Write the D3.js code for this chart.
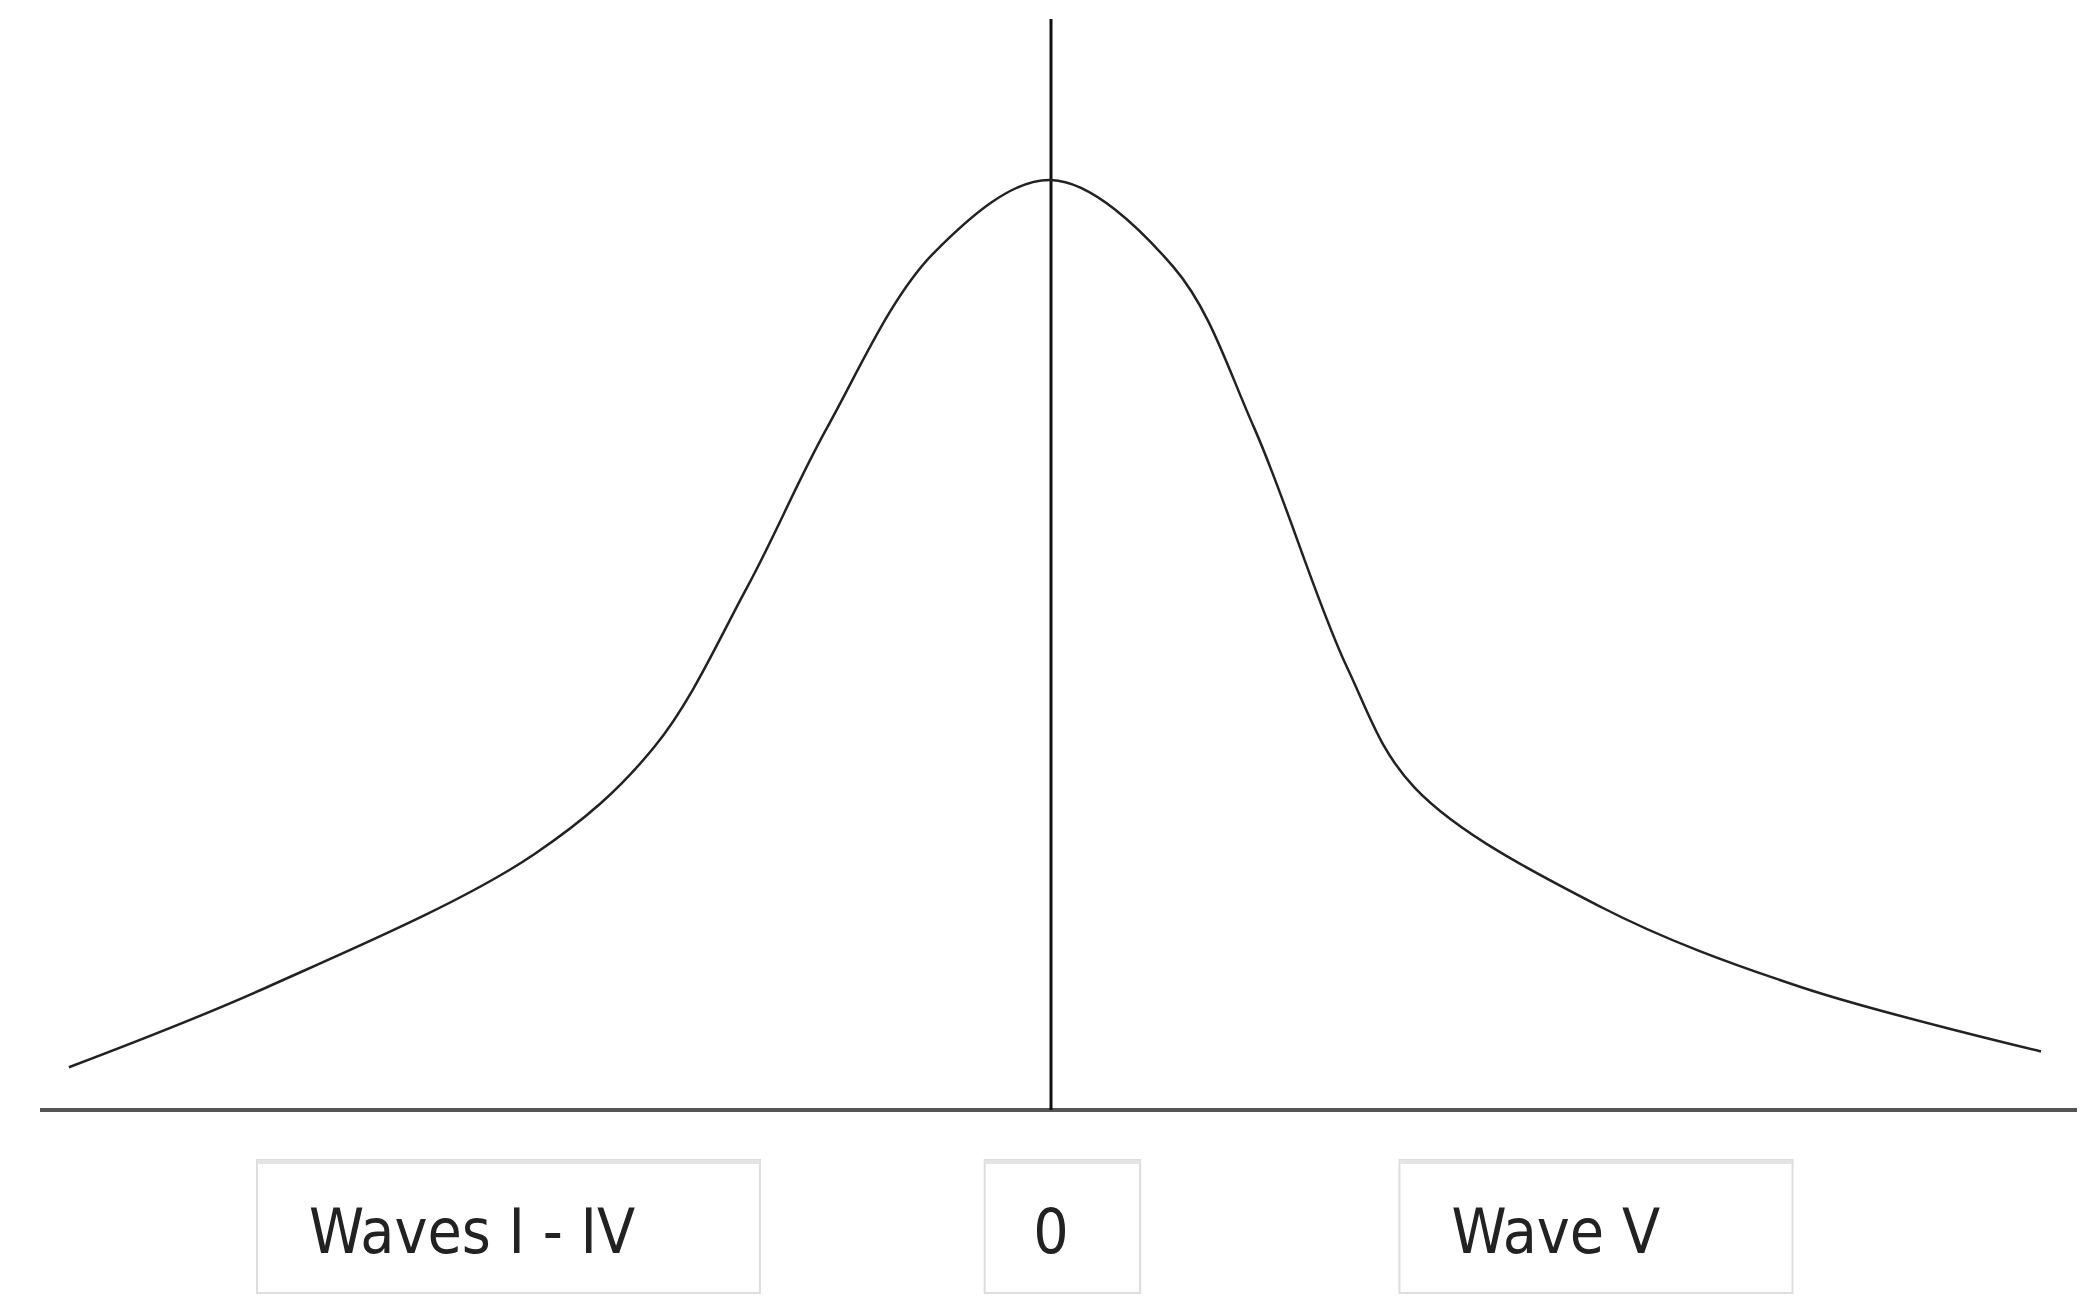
<!DOCTYPE html>
<html>
<head>
<meta charset="utf-8">
<script src="https://d3js.org/d3.v7.min.js"></script>
<style>
  body { margin: 0; background: #fff; }
  text { font-family: "Liberation Sans Narrow", "DejaVu Sans Condensed", sans-serif; }
</style>
</head>
<body>
<script>
// curve (x: relative offset, y: relative height)
var curveX = [-9.92, -7.92, -5.22, -4.01, -3.07, -2.26, -1.18, 0, 1.24, 2.05, 2.99, 3.67, 5.56, 7.58, 10];
var curveY = [4.6, 13.2, 27.5, 39.0, 56.2, 73.4, 92.2, 100, 90.6, 73.4, 47.6, 34.7, 21.8, 13.2, 6.3];
var labels = ["Waves I - IV", "0", "Wave V"];
var labelBoxes = [[-8.02, -2.94], [-0.67, 0.9], [3.52, 7.49]]; // x extents in data units

var W = 2081, H = 1307;
var svg = d3.select("body").append("svg").attr("width", W).attr("height", H);

var x = d3.scaleLinear().domain([-10, 10]).range([61, 2041]);
var y = d3.scaleLinear().domain([0, 100]).range([1110, 180]);

// baseline axis
svg.append("line").attr("x1", 40).attr("x2", 2077).attr("y1", y(0)).attr("y2", y(0))
  .attr("stroke", "#555").attr("stroke-width", 4);
// center line
svg.append("line").attr("x1", x(0)).attr("x2", x(0)).attr("y1", 19).attr("y2", y(0))
  .attr("stroke", "#111").attr("stroke-width", 3);

var pts = curveX.map(function(d, i) { return [d, curveY[i]]; });
var line = d3.line().x(function(d) { return x(d[0]); }).y(function(d) { return y(d[1]); })
  .curve(d3.curveCatmullRom.alpha(0.5));
svg.append("path").attr("d", line(pts)).attr("fill", "none")
  .attr("stroke", "#222").attr("stroke-width", 2.5);

var g = svg.selectAll(".lab").data(labels).enter().append("g");
g.append("rect")
  .attr("x", function(d, i) { return x(labelBoxes[i][0]); })
  .attr("width", function(d, i) { return x(labelBoxes[i][1]) - x(labelBoxes[i][0]); })
  .attr("y", 1160).attr("height", 133)
  .attr("fill", "#fff").attr("stroke", "#ddd").attr("stroke-width", 2);
g.append("line")
  .attr("x1", function(d, i) { return x(labelBoxes[i][0]); })
  .attr("x2", function(d, i) { return x(labelBoxes[i][1]); })
  .attr("y1", 1162).attr("y2", 1162).attr("stroke", "#e4e4e4").attr("stroke-width", 4);
g.append("text")
  .attr("x", function(d, i) { return i === 1 ? x(0) : x(labelBoxes[i][0]) + 52; })
  .attr("text-anchor", function(d, i) { return i === 1 ? "middle" : "start"; })
  .attr("y", 1253).attr("font-size", 62).attr("fill", "#222")
  .text(function(d) { return d; });
</script>
</body>
</html>
